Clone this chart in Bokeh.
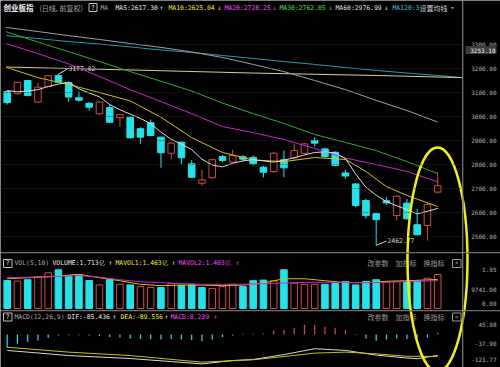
from bokeh.plotting import figure
from bokeh.layouts import gridplot
from bokeh.models import Range1d, Span
from bokeh.core.properties import value
from bokeh.embed import file_html
from bokeh.resources import INLINE

# ---------------- data ----------------
idx = list(range(1, 44))
opens = [3104, 3096, 3150, 3060, 3125, 3171, 3141, 3078, 3055, 3011,
         3037, 2995, 2997, 2949, 2974, 2914, 2847, 2893, 2803, 2722,
         2745, 2833, 2810, 2832, 2830, 2789, 2771, 2820, 2828, 2847,
         2900, 2865, 2851, 2765, 2719, 2650, 2595, 2649, 2587, 2639,
         2549, 2546, 2685]
highs = [3110, 3145, 3152, 3140, 3174, 3177.02, 3145, 3105, 3060, 3062,
         3050, 3010, 3000, 2955, 2987, 2916, 2892, 2895, 2818, 2778,
         2822, 2840, 2861, 2840, 2838, 2795, 2852, 2858, 2886, 2890,
         2914, 2870, 2855, 2778, 2722, 2658, 2597, 2664, 2670, 2657,
         2615, 2640, 2768]
lows = [3050, 3090, 3085, 3058, 3122, 3140, 3060, 3062, 3025, 3008,
        2972, 2958, 2908, 2886, 2918, 2786, 2821, 2800, 2745, 2712,
        2742, 2810, 2808, 2815, 2795, 2746, 2765, 2747, 2820, 2843,
        2875, 2828, 2792, 2740, 2622, 2575, 2462.77, 2633, 2567, 2570,
        2505, 2483, 2680]
closes = [3058, 3142, 3087, 3122, 3170, 3143, 3081, 3068, 3039, 3060,
          2976, 3008, 2911, 2914, 2921, 2849, 2889, 2828, 2747, 2736,
          2820, 2817, 2837, 2822, 2803, 2768, 2847, 2786, 2858, 2886,
          2889, 2833, 2796, 2752, 2629, 2587, 2570, 2640, 2668, 2574,
          2507, 2633, 2712]

ma5 = [3108, 3103, 3106, 3112, 3125, 3135, 3143, 3115, 3098, 3082,
       3050, 3028, 3010, 2992, 2970, 2935, 2905, 2885, 2862, 2822,
       2798, 2790, 2805, 2815, 2820, 2815, 2810, 2818, 2828, 2840,
       2850, 2853, 2848, 2825, 2760, 2705, 2672, 2645, 2628, 2612,
       2594, 2605, 2617.30]
ma10_x = [0.9, 4, 7, 10, 13, 16, 19, 22, 25, 28, 31, 34, 36, 38, 40, 43]
ma10 = [3205, 3162, 3133, 3100, 3065, 2997, 2912, 2850, 2819, 2812,
        2829, 2821, 2771, 2708, 2671, 2625.04]
ma_x = [0.9, 4, 7, 10, 13, 16, 19, 22, 25, 28, 31, 34, 37, 40, 43]
ma20 = [3304, 3262, 3219, 3167, 3112, 3062, 3012, 2958, 2933, 2904,
        2867, 2827, 2800, 2771, 2728.25]
ma30 = [3353, 3310, 3270, 3229, 3187, 3147, 3106, 3056, 3012, 2971,
        2925, 2892, 2858, 2812, 2762.05]
ma60 = [3371, 3354, 3337, 3321, 3304, 3288, 3269, 3246, 3217, 3187,
        3150, 3112, 3067, 3025, 2976.99]
ma120_x = [0.9, 4, 7, 10, 13, 16, 19, 22, 25, 28, 31, 34, 37, 40, 43, 45.4]
ma120 = [3337, 3325, 3312, 3302, 3290, 3277, 3267, 3254, 3242, 3229,
         3217, 3204, 3192, 3181, 3171, 3162]
ma250_x = [0.9, 13, 25, 37, 45.4]
ma250 = [3206, 3194, 3181, 3171, 3162]

volumes = [1.41, 1.38, 1.45, 1.61, 1.80, 1.95, 1.66, 1.71, 1.41, 1.19,
           1.45, 1.22, 1.19, 1.11, 1.06, 1.06, 1.27, 1.17, 1.22, 1.06,
           1.01, 1.11, 1.22, 1.11, 1.40, 1.43, 1.40, 1.95, 1.27, 1.22,
           1.22, 1.22, 1.27, 1.36, 1.19, 1.36, 1.45, 1.36, 1.36, 1.36,
           1.40, 1.53, 1.713]
vol_red = [0, 1, 0, 1, 1, 0, 0, 0, 0, 1,
           0, 1, 0, 1, 1, 0, 1, 0, 0, 0,
           1, 1, 1, 0, 0, 0, 1, 0, 1, 1,
           1, 0, 0, 0, 0, 0, 0, 1, 1, 0,
           0, 1, 1]
mv_x = [1, 5, 8, 10, 12, 14, 16, 18, 20, 22, 24, 26, 28, 30, 32, 34, 36, 38, 40, 43]
mavol1 = [1.50, 1.60, 1.72, 1.55, 1.40, 1.22, 1.15, 1.18, 1.18, 1.15,
          1.18, 1.28, 1.50, 1.50, 1.40, 1.30, 1.30, 1.37, 1.40, 1.463]
mavol2 = [1.55, 1.60, 1.66, 1.58, 1.45, 1.35, 1.30, 1.25, 1.22, 1.22,
          1.22, 1.25, 1.28, 1.32, 1.32, 1.32, 1.30, 1.32, 1.36, 1.403]

macd = [-52, -38, -30, -24, -14, -4, -3, -3, -4, -6,
        -10, -12, -16, -18, -18, -20, -18, -20, -22, -28,
        -20, -10, -4, 3, 3, 4, 16, 18, 28, 40,
        40, 32, 28, 18, -2, -16, -26, -20, -16, -18,
        -12, -12, 8.239]
dif_x = [1, 7, 13, 20, 23, 25, 28, 31, 34, 37, 40, 41, 43]
dif = [-65, -86, -98, -120, -106, -102, -82, -58, -65, -84, -96, -99, -85.436]
dea_x = [1, 7, 13, 20, 25, 28, 31, 34, 37, 40, 43]
dea = [-52, -72, -86, -113, -103, -90, -76, -72, -79, -89, -89.556]

price_ticks = [3300, 3200, 3100, 3000, 2900, 2800, 2700, 2600, 2500]
vol_ticks = [1.95, 0.9741, 0.0]
vol_tick_labels = ["1.95", "9741.00", "0.00"]
macd_ticks = [45.98, -37.90, -121.77]
hi_label = "3177.02"
lo_label = "2462.77"
last_box = "3253.10"

# ---------------- styling / layout helpers ----------------
BG = "#000000"
UP = "#d44a40"
DN = "#20e4ec"
GREY = "#a8a8a8"
MONO = value("DejaVu Sans Mono")
CJK = value("Noto Sans CJK SC")

X0, DX = 6.7, 10.25


def ix(px):
    return (px - X0) / DX + 1


def pp(py):
    return 2500 + (236 - py) / 0.24


def vv(py):
    return (308 - py) / 19.85


def mm(py):
    return (334 - py) / 0.245


W_MAIN, W_AX = 462, 38
H1, H2, H3 = 252, 58, 57

xr = Range1d(ix(0), ix(462))
axr = Range1d(462, 500)


def mkfig(w, h, xrange, yrange):
    f = figure(width=w, height=h, x_range=xrange, y_range=yrange,
               output_backend="svg", toolbar_location=None,
               x_axis_location=None, y_axis_location=None,
               min_border_left=0, min_border_right=0,
               min_border_top=0, min_border_bottom=0,
               background_fill_color=BG, border_fill_color=BG,
               outline_line_color=None)
    f.grid.visible = False
    return f


def txt(f, x, y, s, color, font=MONO, size="6.4px", align="left", style="normal", yoff=0):
    f.text(x=[x], y=[y], text=[s], text_color=color, text_font=font,
           text_font_size=value(size), text_align=align, text_baseline="middle",
           text_font_style=style, y_offset=yoff)


def qbox(f, conv, x0, x1, y0, y1, color="#c0c0c0"):
    f.quad(left=[ix(x0)], right=[ix(x1)], top=[conv(y0)], bottom=[conv(y1)],
           fill_color=None, line_color=color, line_width=1)


ELL = dict(cx=437, cy=259, w=60, h=224)
ELL_COLOR = "#f2f200"

# ---------------- main panel ----------------
p1 = mkfig(W_MAIN, H1, xr, Range1d(pp(252), pp(0)))
for t in price_ticks:
    p1.add_layout(Span(location=t, dimension="width", line_color="#3a2626",
                       line_width=1, line_dash="1 2"))

up = [c >= o for o, c in zip(opens, closes)]
ccol = [UP if u else DN for u in up]
cfill = [BG if u else DN for u in up]
p1.segment(x0=idx, y0=highs, x1=idx, y1=lows, line_color=ccol, line_width=1)
p1.vbar(x=idx, width=0.64, top=[max(o, c) for o, c in zip(opens, closes)],
        bottom=[min(o, c) for o, c in zip(opens, closes)],
        fill_color=cfill, line_color=ccol, line_width=1)

p1.line(ma120_x, ma120, line_color="#1f9ea8", line_width=1)
p1.line(ma250_x, ma250, line_color="#d6cc9c", line_width=1)
p1.line(ma_x, ma60, line_color="#a0a0a0", line_width=1)
p1.line(ma_x, ma30, line_color="#2eae2e", line_width=1)
p1.line(ma_x, ma20, line_color="#d020d0", line_width=1)
p1.line(ma10_x, ma10, line_color="#d6c000", line_width=1)
p1.line(idx, ma5, line_color="#dcdcdc", line_width=1)

# high / low markers
i_hi = highs.index(max(highs)) + 1
i_lo = lows.index(min(lows)) + 1
p1.segment(x0=[i_hi], y0=[max(highs)], x1=[ix(67)], y1=[pp(68.5)], line_color="#d8d8d8", line_width=1)
txt(p1, ix(68), pp(67.5), hi_label, "#d8d8d8", size="6.4px")
p1.segment(x0=[i_lo], y0=[min(lows)], x1=[ix(386)], y1=[pp(240.5)], line_color="#d8d8d8", line_width=1)
txt(p1, ix(387), pp(239.5), lo_label, "#d8d8d8", size="6.4px")

# header
HY = pp(7)
txt(p1, ix(3), HY, "创业板指", "#f0f0f0", font=CJK, size="7.5px", style="bold")
txt(p1, ix(39), HY, "(日线, 前复权)", GREY, font=CJK, size="7px")
qbox(p1, pp, 88.5, 96.5, 3, 11)
txt(p1, ix(92.5), HY, "?", "#e0e0e0", size="6.4px", align="center")
txt(p1, ix(100), HY, "MA", GREY)
txt(p1, ix(115), HY, "MA5:%.2f" % ma5[-1], "#e8e8e8")
txt(p1, ix(159), HY, "↑", "#e8e8e8")
txt(p1, ix(168), HY, "MA10:%.2f" % ma10[-1], "#f0f000")
txt(p1, ix(217), HY, "↓", "#f0f000")
txt(p1, ix(224), HY, "MA20:%.2f" % ma20[-1], "#ff40ff")
txt(p1, ix(272), HY, "↓", "#ff40ff")
txt(p1, ix(279), HY, "MA30:%.2f" % ma30[-1], "#40e040")
txt(p1, ix(328), HY, "↓", "#40e040")
txt(p1, ix(335), HY, "MA60:%.2f" % ma60[-1], "#e0e0e0")
txt(p1, ix(384), HY, "↓", "#e0e0e0")
txt(p1, ix(392), HY, "MA120:3", "#30c8d8")
txt(p1, ix(419), HY, "设置均线", "#d0d0d0", font=CJK, size="7px")
txt(p1, ix(450), HY, "▾", GREY)

p1.ellipse(x=[ix(ELL["cx"])], y=[pp(ELL["cy"])], width=ELL["w"] / DX,
           height=ELL["h"] / 0.24, fill_color=None, line_color=ELL_COLOR, line_width=2.5)

a1 = mkfig(W_AX, H1, axr, p1.y_range)
for t in price_ticks:
    txt(a1, 496, t, "%.2f" % t, "#b4b4b4", size="6px", align="right")
a1.quad(left=[465], right=[496], top=[pp(45.5)], bottom=[pp(53.5)], fill_color="#3c3c3c", line_color=None)
txt(a1, 495, pp(49.5), last_box, "#f0f0f0", size="6px", align="right")
a1.add_layout(Span(location=462.5, dimension="height", line_color="#484848", line_width=1))
a1.ellipse(x=[ELL["cx"]], y=[pp(ELL["cy"])], width=ELL["w"], height=ELL["h"] / 0.24,
           fill_color=None, line_color=ELL_COLOR, line_width=2.5)

# ---------------- volume panel ----------------
p2 = mkfig(W_MAIN, H2, xr, Range1d(vv(310), vv(252)))
p2.add_layout(Span(location=vv(252.5), dimension="width", line_color="#3a3a3a", line_width=1))
vcol = [UP if r else DN for r in vol_red]
vfill = [BG if r else DN for r in vol_red]
p2.vbar(x=idx, width=0.64, top=volumes, bottom=0, fill_color=vfill, line_color=vcol, line_width=1)
p2.line(mv_x, mavol1, line_color="#d6c000", line_width=1)
p2.line(mv_x, mavol2, line_color="#d020d0", line_width=1)

VY = vv(262.5)
qbox(p2, vv, 3, 11.5, 259, 267)
txt(p2, ix(7.2), VY, "?", "#e0e0e0", align="center")
txt(p2, ix(14), VY, "VOL(5,10)", GREY)
txt(p2, ix(52), VY, "VOLUME:%.3f亿" % volumes[-1], "#e8e8e8")
txt(p2, ix(108), VY, "↑", "#e8e8e8")
txt(p2, ix(115), VY, "MAVOL1:%.3f亿" % mavol1[-1], "#f0f000")
txt(p2, ix(171), VY, "↑", "#f0f000")
txt(p2, ix(178), VY, "MAVOL2:%.3f亿" % mavol2[-1], "#ff40ff")
txt(p2, ix(235), VY, "↑", "#ff40ff")
for s, x in (("改参数", 367), ("加指标", 395), ("换指标", 423)):
    txt(p2, ix(x), VY, s, "#9a9a9a", font=CJK, size="7px")
qbox(p2, vv, 452, 460.5, 259, 267, color="#9a9a9a")
txt(p2, ix(456.2), VY, "×", "#9a9a9a", align="center")
p2.ellipse(x=[ix(ELL["cx"])], y=[vv(ELL["cy"])], width=ELL["w"] / DX,
           height=ELL["h"] / 19.85, fill_color=None, line_color=ELL_COLOR, line_width=2.5)

a2 = mkfig(W_AX, H2, axr, p2.y_range)
a2.add_layout(Span(location=vv(252.5), dimension="width", line_color="#3a3a3a", line_width=1))
a2.add_layout(Span(location=462.5, dimension="height", line_color="#484848", line_width=1))
for t, s, yo in zip(vol_ticks, vol_tick_labels, [0, 0, -5.5]):
    txt(a2, 496, t, s, "#b4b4b4", size="6px", align="right", yoff=yo)
a2.ellipse(x=[ELL["cx"]], y=[vv(ELL["cy"])], width=ELL["w"], height=ELL["h"] / 19.85,
           fill_color=None, line_color=ELL_COLOR, line_width=2.5)

# ---------------- MACD panel ----------------
p3 = mkfig(W_MAIN, H3, xr, Range1d(mm(367), mm(310)))
p3.add_layout(Span(location=mm(310.5), dimension="width", line_color="#3a3a3a", line_width=1))
hcol = [UP if m > 0 else DN for m in macd]
p3.segment(x0=idx, y0=[0] * len(idx), x1=idx, y1=macd, line_color=hcol, line_width=1.2)
p3.line(dif_x, dif, line_color="#d8d8d8", line_width=1)
p3.line(dea_x, dea, line_color="#c8c400", line_width=1)

MY = mm(316.3)
qbox(p3, mm, 3, 11.5, 312.5, 320.5)
txt(p3, ix(7.2), MY, "?", "#e0e0e0", align="center")
txt(p3, ix(14), MY, "MACD(12,26,9)", GREY)
txt(p3, ix(67), MY, "DIF:%.3f" % dif[-1], "#e8e8e8")
txt(p3, ix(112), MY, "↑", "#e8e8e8")
txt(p3, ix(120), MY, "DEA:%.3f" % dea[-1], "#f0f000")
txt(p3, ix(164), MY, "↑", "#f0f000")
txt(p3, ix(170), MY, "MACD:%.3f" % macd[-1], "#ff40ff")
txt(p3, ix(213), MY, "↑", "#ff40ff")
for s, x in (("改参数", 367), ("加指标", 395), ("换指标", 423)):
    txt(p3, ix(x), MY, s, "#9a9a9a", font=CJK, size="7px")
qbox(p3, mm, 452, 460.5, 312.5, 320.5, color="#9a9a9a")
txt(p3, ix(456.2), MY, "×", "#9a9a9a", align="center")
p3.ellipse(x=[ix(ELL["cx"])], y=[mm(ELL["cy"])], width=ELL["w"] / DX,
           height=ELL["h"] / 0.245, fill_color=None, line_color=ELL_COLOR, line_width=2.5)

a3 = mkfig(W_AX, H3, axr, p3.y_range)
a3.add_layout(Span(location=mm(310.5), dimension="width", line_color="#3a3a3a", line_width=1))
a3.add_layout(Span(location=462.5, dimension="height", line_color="#484848", line_width=1))
for t, yo in zip(macd_ticks, [1.3, 0, -4.8]):
    txt(a3, 496, t, "%.2f" % t, "#b4b4b4", size="6px", align="right", yoff=yo)
a3.ellipse(x=[ELL["cx"]], y=[mm(ELL["cy"])], width=ELL["w"], height=ELL["h"] / 0.245,
           fill_color=None, line_color=ELL_COLOR, line_width=2.5)

grid = gridplot([[p1, a1], [p2, a2], [p3, a3]], toolbar_location=None)

with open("out.html", "w") as fh:
    fh.write(file_html(grid, INLINE))
